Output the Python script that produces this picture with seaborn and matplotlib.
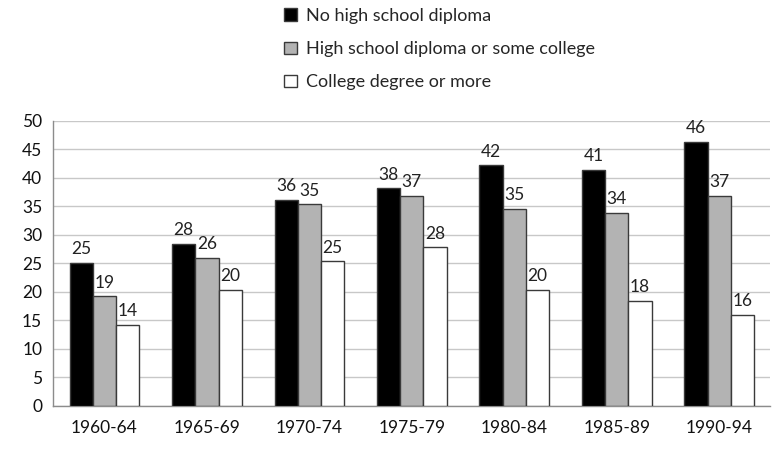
import matplotlib
matplotlib.use("Agg")
import matplotlib.pyplot as plt
import pandas as pd
import seaborn as sns

# data
periods = ["1960-64", "1965-69", "1970-74", "1975-79", "1980-84", "1985-89", "1990-94"]
no_diploma = [25.1, 28.4, 36.2, 38.2, 42.2, 41.4, 46.3]
hs_some_college = [19.2, 26.0, 35.4, 36.9, 34.6, 33.9, 36.9]
college_degree = [14.2, 20.4, 25.4, 27.8, 20.4, 18.4, 16.0]
groups = ["No high school diploma", "High school diploma or some college", "College degree or more"]

df = pd.DataFrame({
    "period": periods * 3,
    "value": no_diploma + hs_some_college + college_degree,
    "group": [groups[0]] * 7 + [groups[1]] * 7 + [groups[2]] * 7,
})

sns.set_style("white")
plt.rcParams["font.family"] = ["Lato", "DejaVu Sans"]

fig = plt.figure(figsize=(7.72, 4.53), dpi=100)
ax = fig.add_axes([0.069, 0.104, 0.929, 0.629])

sns.barplot(data=df, x="period", y="value", hue="group",
            palette=["black", "#b3b3b3", "white"], width=0.68,
            edgecolor="#3a3a3a", linewidth=1, saturation=1,
            errorbar=None, ax=ax, zorder=3)

for c in ax.containers:
    ax.bar_label(c, fmt="%.0f", padding=4, fontsize=12.5, color="#222222")

ax.set_ylim(0, 50)
ax.set_yticks(range(0, 51, 5))
ax.set_xlim(-0.5, 6.5)
ax.yaxis.grid(True, color="#c8c8c8", linewidth=1, zorder=0)
ax.set_axisbelow(True)
ax.set_xlabel("")
ax.set_ylabel("")

for s in ["top", "right"]:
    ax.spines[s].set_visible(False)
for s in ["left", "bottom"]:
    ax.spines[s].set_color("#8c8c8c")
    ax.spines[s].set_linewidth(1)

ax.tick_params(axis="x", length=0, labelsize=12.5, pad=10, colors="#111111")
ax.tick_params(axis="y", length=4, width=1, color="#8c8c8c", labelsize=12.5, colors="#111111", pad=4)
ax.set_xticks([i - 0.5 for i in range(8)], minor=True)
ax.tick_params(axis="x", which="minor", length=5, width=1, color="#8c8c8c", direction="out")

handles, labels = ax.get_legend_handles_labels()
ax.legend_.remove()
fig.legend(handles, labels, loc="upper left", bbox_to_anchor=(0.352, 1.01),
           frameon=False, fontsize=13, handlelength=0.7, handleheight=0.7,
           handletextpad=0.5, labelspacing=0.95, borderaxespad=0.3)

fig.savefig("out.png", dpi=100)
